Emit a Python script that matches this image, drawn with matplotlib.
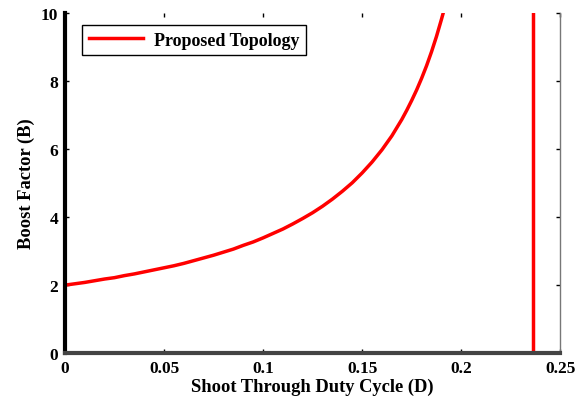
import matplotlib
matplotlib.use("Agg")
import matplotlib.pyplot as plt

# boost factor
duty = [0.0, 0.005, 0.01, 0.015, 0.02, 0.025, 0.03, 0.035, 0.04, 0.045,
        0.05, 0.055, 0.06, 0.065, 0.07, 0.075, 0.08, 0.085, 0.09, 0.095,
        0.10, 0.105, 0.11, 0.115, 0.12, 0.125, 0.13, 0.135, 0.14, 0.145,
        0.15, 0.155, 0.16, 0.165, 0.17, 0.1725, 0.175, 0.1775, 0.18,
        0.1825, 0.185, 0.1875, 0.19, 0.191]
boost = [2.0, 2.04, 2.08, 2.13, 2.18, 2.22, 2.28, 2.33, 2.39, 2.45,
         2.51, 2.57, 2.64, 2.72, 2.80, 2.88, 2.97, 3.06, 3.17, 3.27,
         3.39, 3.52, 3.65, 3.80, 3.96, 4.13, 4.32, 4.53, 4.76, 5.01,
         5.30, 5.62, 5.98, 6.39, 6.87, 7.14, 7.43, 7.74, 8.08,
         8.45, 8.86, 9.31, 9.81, 10.02]

# asymptote
limit_d = [0.236, 0.236]
limit_b = [0, 10]

xticks = [0, 0.05, 0.1, 0.15, 0.2, 0.25]
xticklabels = ["0", "0.05", "0.1", "0.15", "0.2", "0.25"]
yticks = [0, 2, 4, 6, 8, 10]

plt.rcParams["font.family"] = ["Liberation Serif", "DejaVu Serif"]
plt.rcParams["font.weight"] = "bold"

fig = plt.figure(figsize=(5.8, 4.02), dpi=100)
ax = fig.add_axes([0.112, 0.119, 0.854, 0.846])

ax.plot(duty, boost, color="red", linewidth=2.5, label="Proposed Topology")
ax.plot(limit_d, limit_b, color="red", linewidth=2.5)

ax.set_xlim(0, 0.25)
ax.set_ylim(0, 10)
ax.set_xticks(xticks)
ax.set_xticklabels(xticklabels)
ax.set_yticks(yticks)
ax.tick_params(direction="in", length=3, width=1, labelsize=12.5,
               top=True, right=True, pad=5)

ax.spines["top"].set_visible(False)
ax.spines["left"].set_linewidth(3)
ax.spines["left"].set_color("black")
ax.spines["bottom"].set_linewidth(3)
ax.spines["bottom"].set_color("#444444")
ax.spines["right"].set_linewidth(1)
ax.spines["right"].set_color("#777777")

ax.set_xlabel("Shoot Through Duty Cycle (D)", fontsize=13.3, fontweight="bold",
              labelpad=1)
ax.set_ylabel("Boost Factor (B)", fontsize=13.3, fontweight="bold", labelpad=4)

leg = ax.legend(loc="upper left", bbox_to_anchor=(0.017, 0.99), fancybox=False,
                framealpha=1, edgecolor="black", prop=dict(size=13, weight="bold"),
                handlelength=3.0, handletextpad=0.6, borderpad=0.35)
leg.get_frame().set_linewidth(1)

fig.savefig("out.png", dpi=100)
